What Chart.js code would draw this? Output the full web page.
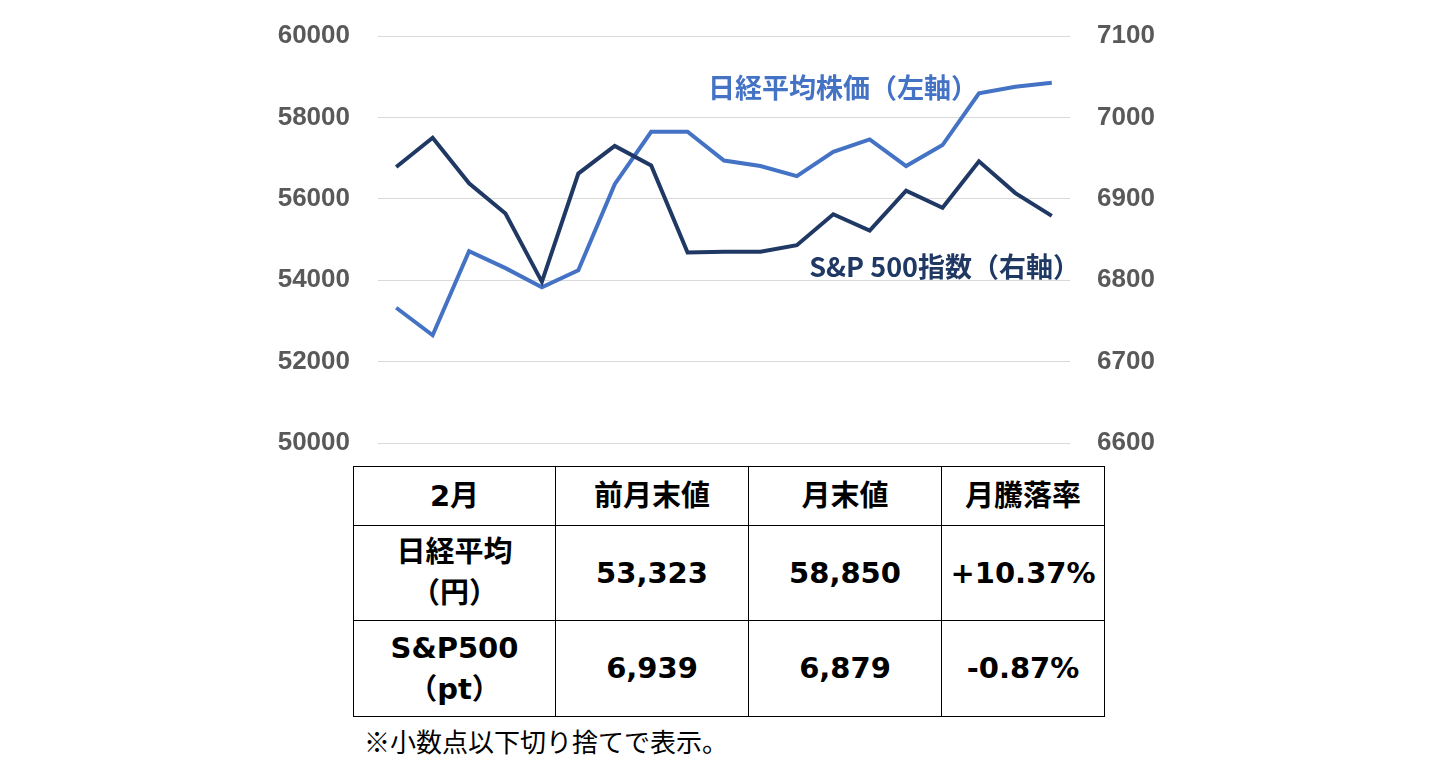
<!DOCTYPE html>
<html lang="ja">
<head>
<meta charset="utf-8">
<title>日経平均とS&P500 2月</title>
<script src="https://cdn.jsdelivr.net/npm/chart.js@4.4.1/dist/chart.umd.min.js"></script>
<style>
    html, body { margin: 0; padding: 0; background: #fff; }
    body { width: 1446px; height: 764px; position: relative; overflow: hidden;
           font-family: "Noto Sans CJK JP", "Noto Sans", sans-serif; }
    #chartBox { position: absolute; left: 0; top: 0; width: 1446px; height: 460px; }
    #resultTable { position: absolute; left: 353px; top: 466px; border-collapse: collapse;
                   font-weight: bold; font-size: 29px; color: #000;
                   font-family: "DejaVu Sans", "Noto Sans CJK JP", sans-serif; }
    #resultTable td { border: 1.5px solid #000; text-align: center; padding: 0; line-height: 41px; }
    #note { position: absolute; left: 364px; top: 724px; font-size: 26px; color: #000; line-height: 34px; }
</style>
</head>
<body>
<div id="chartBox"><canvas id="myChart"></canvas></div>

<table id="resultTable">
    <tr style="height:59px">
        <td style="width:201px">2月</td>
        <td style="width:192px">前月末値</td>
        <td style="width:192px">月末値</td>
        <td style="width:162px">月騰落率</td>
    </tr>
    <tr style="height:95px">
        <td>日経平均<br>（円）</td>
        <td id="nkPrev"></td>
        <td id="nkLast"></td>
        <td id="nkRate"></td>
    </tr>
    <tr style="height:96px">
        <td>S&amp;P500<br>（pt）</td>
        <td id="spPrev"></td>
        <td id="spLast"></td>
        <td id="spRate"></td>
    </tr>
</table>
<div id="note">※小数点以下切り捨てで表示。</div>

<script>
//-------------Данные-----------------
// 前月末(1/30)から2月末まで
var dayLabels = ["1/30", "2/2", "2/3", "2/4", "2/5", "2/6", "2/9", "2/10", "2/12", "2/13",
                 "2/16", "2/17", "2/18", "2/19", "2/20", "2/24", "2/25", "2/26", "2/27"];
var nikkeiValues = [53323, 52648, 54714, 54296, 53828, 54246, 56361, 57647, 57647, 56939,
                    56804, 56558, 57155, 57460, 56804, 57320, 58591, 58753, 58850];
var spValues = [6939, 6975, 6919, 6882, 6798, 6931, 6965, 6941, 6834, 6835,
                6835, 6843, 6881, 6861, 6910, 6889, 6946, 6907, 6879];
var leftTicks = [50000, 52000, 54000, 56000, 58000, 60000];
var rightTicks = [6600, 6700, 6800, 6900, 7000, 7100];

var tableRows = {
    nk: { prev: "53,323", last: "58,850", rate: "+10.37%" },
    sp: { prev: "6,939", last: "6,879", rate: "-0.87%" }
};

//-------------Таблица-----------------
document.getElementById("nkPrev").textContent = tableRows.nk.prev;
document.getElementById("nkLast").textContent = tableRows.nk.last;
document.getElementById("nkRate").textContent = tableRows.nk.rate;
document.getElementById("spPrev").textContent = tableRows.sp.prev;
document.getElementById("spLast").textContent = tableRows.sp.last;
document.getElementById("spRate").textContent = tableRows.sp.rate;

//-------------Подписи серий на графике-----------------
var seriesLabels = {
    id: 'seriesLabels',
    afterDatasetsDraw: function (chart) {
        var ctx = chart.ctx;
        ctx.save();
        ctx.font = 'bold 27px "Noto Sans CJK JP", sans-serif';
        ctx.textBaseline = 'middle';
        ctx.textAlign = 'right';
        ctx.fillStyle = '#4472C4';
        ctx.fillText('日経平均株価（左軸）', 978, 88);
        ctx.fillStyle = '#203864';
        ctx.fillText('S&P 500指数（右軸）', 1080, 267);
        ctx.restore();
    }
};

// ширина оси фиксированная, без лишних отступов сверху/снизу
function fixAxis(width) {
    return function (scale) {
        scale.width = width;
        scale.paddingTop = 0;
        scale.paddingBottom = 0;
    };
}

function BuildChart() {
    var ctx = document.getElementById("myChart").getContext('2d');
    var tickFont = { family: '"Liberation Sans", Arial, sans-serif', size: 26, weight: 'bold' };
    var plainTick = function (value) { return String(value); };
    var myChart = new Chart(ctx, {
        type: 'line',
        data: {
            labels: dayLabels,
            datasets: [{
                label: '日経平均株価（左軸）',
                data: nikkeiValues,
                yAxisID: 'yLeft',
                borderColor: '#4472C4',
                borderWidth: 4,
                pointRadius: 0,
                tension: 0,
                order: 2
            }, {
                label: 'S&P 500指数（右軸）',
                data: spValues,
                yAxisID: 'yRight',
                borderColor: '#203864',
                borderWidth: 4,
                pointRadius: 0,
                tension: 0,
                order: 1
            }]
        },
        options: {
            responsive: true,
            maintainAspectRatio: false,
            animation: false,
            layout: { padding: { top: 36, bottom: 17, left: 0, right: 0 } },
            plugins: {
                legend: { display: false },
                tooltip: { enabled: false }
            },
            scales: {
                x: {
                    display: false,
                    offset: true
                },
                yLeft: {
                    position: 'left',
                    min: 50000,
                    max: 60000,
                    afterBuildTicks: function (scale) {
                        scale.ticks = leftTicks.map(function (v) { return { value: v }; });
                    },
                    afterFit: fixAxis(378),
                    grid: { color: '#D9D9D9', lineWidth: 1, drawTicks: false },
                    border: { display: false },
                    ticks: { color: '#595959', font: tickFont, padding: 28, callback: plainTick }
                },
                yRight: {
                    position: 'right',
                    min: 6600,
                    max: 7100,
                    afterBuildTicks: function (scale) {
                        scale.ticks = rightTicks.map(function (v) { return { value: v }; });
                    },
                    afterFit: fixAxis(376),
                    grid: { display: false, drawTicks: false },
                    border: { display: false },
                    ticks: { color: '#595959', font: tickFont, padding: 27, callback: plainTick }
                }
            }
        },
        plugins: [seriesLabels]
    });
    return myChart;
}

BuildChart();
</script>
</body>
</html>
